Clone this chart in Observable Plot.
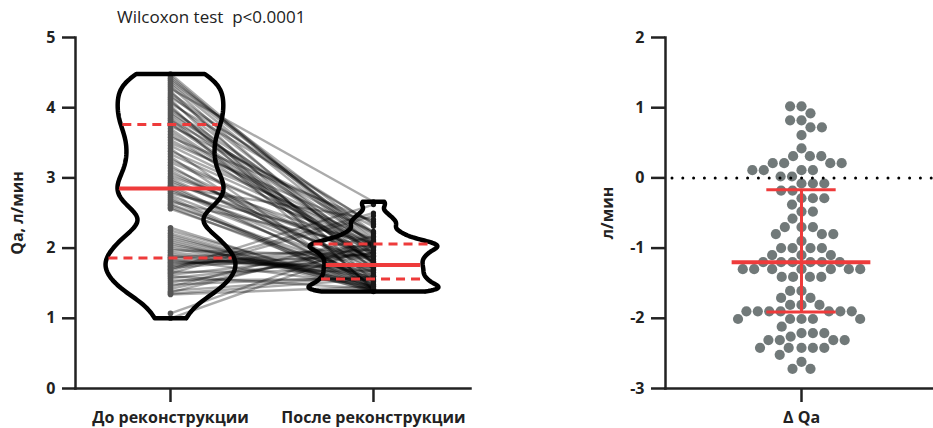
<!DOCTYPE html>
<html><head><meta charset="utf-8">
<script src="https://cdn.jsdelivr.net/npm/d3@7"></script>
<script src="https://cdn.jsdelivr.net/npm/@observablehq/plot@0.6"></script>
<style>
body{margin:0;width:933px;height:428px;overflow:hidden;background:#fff;font-family:"Open Sans",sans-serif;}
#wrap{position:relative;width:933px;height:428px;overflow:hidden;}
#left{position:absolute;left:0;top:0;}
#right{position:absolute;left:500px;top:0;width:437px;}
#right svg{max-width:none !important;}
#title{position:absolute;left:117px;top:5px;font-size:17px;color:#222;white-space:pre;font-family:"Open Sans",sans-serif;}
</style></head><body>
<div id="wrap"><div id="left"></div><div id="right"></div><div id="title">Wilcoxon test  p&lt;0.0001</div></div>
<script>
const groups = ["До реконструкции", "После реконструкции"];
const deltaLabel = "Δ Qa";
const yLabelLeft = "Qa, л/мин";
const yLabelRight = "л/мин";
const yTicksLeft = [0, 1, 2, 3, 4, 5];
const yTicksRight = [-3, -2, -1, 0, 1, 2];

const before = [4.48,4.45,4.42,4.39,4.36,4.33,4.30,4.27,4.24,4.21,4.18,4.15,4.12,4.09,4.06,4.03,4.00,3.97,3.94,3.91,3.88,3.85,3.82,3.79,3.77,
3.74,3.70,3.66,3.62,3.58,3.54,3.50,3.46,3.42,3.38,3.34,3.30,3.26,3.22,3.18,3.14,3.10,3.06,3.02,2.99,2.96,2.93,2.90,2.88,2.86,
2.84,2.81,2.78,2.75,2.72,2.69,2.66,2.63,2.61,2.58,2.56,
2.29,2.25,2.21,2.18,2.15,2.12,2.09,2.06,2.03,2.00,1.97,1.94,1.91,1.89,1.87,1.86,
1.84,1.82,1.80,1.00,1.07,1.34,1.35,1.37,1.39,1.42,1.45,1.48,1.51,1.54,1.57,1.60,1.62,1.64,1.66,1.68,1.70,1.72,1.74,1.76,1.78];

const after = [2.06,2.03,2.11,2.22,2.15,2.02,1.78,2.66,1.52,2.20,1.92,2.34,1.40,1.88,2.35,1.41,1.70,2.07,1.93,2.01,1.79,1.43,2.21,1.83,1.78,
2.31,1.80,1.81,1.72,2.38,2.10,2.24,2.05,1.41,2.12,2.04,1.40,1.99,2.02,1.47,1.84,1.69,1.86,2.02,1.72,1.76,1.93,1.49,2.41,1.66,
1.54,1.81,2.08,1.65,1.42,1.39,2.01,1.53,1.61,1.48,1.56,
1.39,1.45,1.41,1.38,1.45,1.42,1.39,1.48,1.55,1.52,1.89,1.65,1.62,1.60,1.98,1.68,
1.46,1.74,1.72,2.02,2.09,1.45,1.56,2.09,1.60,2.03,2.17,1.59,1.93,1.56,1.88,1.42,1.93,2.46,1.68,2.50,2.62,1.93,2.05,1.97,1.89];

const delta = [-2.42,-2.42,-2.31,-1.90,-2.21,-2.31,-2.52,-1.61,-2.72,-2.01,-2.26,-1.81,-2.72,-2.21,-1.71,-2.62,-2.42,-1.90,-2.01,-2.42,-2.31,-2.42,-1.61,-2.21,-2.12,
-2.31,-1.90,-2.01,-1.90,-1.20,-2.01,-1.90,-1.41,-2.01,-1.81,-1.90,-1.90,-1.81,-1.20,-1.71,-1.30,-1.41,-1.20,-1.00,-1.41,-1.20,-1.30,-1.41,-1.30,-1.20,
-1.30,-1.00,-1.30,-1.10,-1.30,-1.30,-1.20,-1.10,-1.00,-1.10,-1.00,
-0.90,-0.80,-0.80,-0.80,-0.70,-0.70,-0.70,-0.58,-0.48,-0.48,-0.08,-0.29,-0.29,-0.29,0.11,-0.18,
-0.38,-0.08,-0.08,1.02,1.02,0.11,0.21,0.72,0.21,0.61,0.72,0.11,0.42,0.02,0.31,-0.18,0.31,0.82,0.02,0.82,0.92,0.21,0.31,0.21,0.11];

// [Q1, median, Q3] as drawn
const beforeStats = [1.86, 2.85, 3.76];
const afterStats = [1.56, 1.76, 2.06];
const deltaStats = [-1.91, -1.20, -0.17];

const RED = "#ee3b3b";
const INK = "#222";

// kernel density outline, truncated at the data range
function violin(values, center, bw, halfWidth, gamma, n = 160) {
  const lo = d3.min(values), hi = d3.max(values);
  const dens = t => d3.sum(values, v => Math.exp(-0.5 * ((t - v) / bw) ** 2));
  const ts = d3.range(n + 1).map(i => lo + (hi - lo) * i / n);
  const ds = ts.map(dens);
  const m = d3.max(ds);
  const w = d => Math.pow(d / m, gamma) * halfWidth;
  const right = ts.map((t, i) => ({x: center + w(ds[i]), y: t}));
  const left = ts.map((t, i) => ({x: center - w(ds[i]), y: t})).reverse();
  return {pts: [...right, ...left, right[0]], widthAt: q => w(dens(q))};
}

const HW = 0.32;
const vb = violin(before, 1, 0.18, HW, 0.7);
const va = violin(after, 2, 0.06, HW, 0.75);
const statLines = (stats, c, v) => stats.map((q, i) => ({y: q, x1: c - v.widthAt(q) + 0.01, x2: c + v.widthAt(q) - 0.01, median: i === 1}));
const redB = statLines(beforeStats, 1, vb);
const redA = statLines(afterStats, 2, va);
const pairs = before.map((b, i) => ({b, a: after[i]}));

const font = {fontFamily: "'Open Sans', sans-serif", fontSize: "16px", fontWeight: "bold", color: INK, background: "transparent", overflow: "visible"};

const xDom = [0.532, 2.478];
const leftPlot = Plot.plot({
  width: 500, height: 428,
  marginLeft: 75, marginRight: 30, marginTop: 37, marginBottom: 40,
  x: {domain: xDom, axis: null},
  y: {domain: [0, 5], axis: null},
  style: font,
  marks: [
    Plot.link(pairs, {x1: () => 1, y1: "b", x2: () => 2, y2: "a", stroke: "#000", strokeOpacity: 0.33, strokeWidth: 2.4}),
    Plot.dot(before, {x: () => 1, y: d => d, r: 2.8, fill: "#555"}),
    Plot.dot(after, {x: () => 2, y: d => d, r: 2.6, fill: "#1a1a1a"}),
    Plot.line(vb.pts, {x: "x", y: "y", stroke: "#000", strokeWidth: 4.5, strokeLinejoin: "round"}),
    Plot.line(va.pts, {x: "x", y: "y", stroke: "#000", strokeWidth: 4.5, strokeLinejoin: "round"}),
    Plot.ruleY([...redB, ...redA].filter(d => d.median), {y: "y", x1: "x1", x2: "x2", stroke: RED, strokeWidth: 4}),
    Plot.ruleY([...redB, ...redA].filter(d => !d.median), {y: "y", x1: "x1", x2: "x2", stroke: RED, strokeWidth: 3, strokeDasharray: "9,6"}),
    Plot.frame({anchor: "left", stroke: INK, strokeWidth: 2.5}),
    Plot.frame({anchor: "bottom", stroke: INK, strokeWidth: 2.5}),
    Plot.axisY({ticks: yTicksLeft, tickFormat: d => String(d), tickSize: 13, tickPadding: 7, strokeWidth: 2.5, stroke: INK,
      label: yLabelLeft, labelAnchor: "center", labelArrow: "none", labelOffset: 64}),
    Plot.axisX({ticks: [1, 2], tickFormat: d => groups[d - 1], tickSize: 14, tickPadding: 9, strokeWidth: 2.5, stroke: INK, label: null})
  ]
});
document.getElementById("left").appendChild(leftPlot);

const deltaSorted = delta.slice().sort((a, b) => b - a);
const MED_HALF = 0.51, CAP_HALF = 0.255;
const rightPlot = Plot.plot({
  width: 437, height: 428,
  marginLeft: 165, marginRight: 0, marginTop: 37, marginBottom: 40,
  x: {domain: [-1, 1], axis: null},
  y: {domain: [-3, 2], axis: null},
  style: font,
  marks: [
    Plot.dot(deltaSorted, Plot.dodgeX({anchor: "middle", padding: 1.2}, {y: d => d, r: 5.1, fill: "#525c5c", fillOpacity: 0.82})),
    Plot.ruleY([0], {stroke: "#000", strokeWidth: 3, strokeDasharray: "0 10.8", strokeLinecap: "round", strokeDashoffset: 3.8}),
    Plot.ruleX([deltaStats], {x: () => 0, y1: d => d[0], y2: d => d[2], stroke: RED, strokeWidth: 3}),
    Plot.ruleY([deltaStats[1]], {y: d => d, x1: -MED_HALF, x2: MED_HALF, stroke: RED, strokeWidth: 4}),
    Plot.ruleY([deltaStats[0], deltaStats[2]], {y: d => d, x1: -CAP_HALF, x2: CAP_HALF, stroke: RED, strokeWidth: 3}),
    Plot.frame({anchor: "left", stroke: INK, strokeWidth: 2.5}),
    Plot.frame({anchor: "bottom", stroke: INK, strokeWidth: 2.5}),
    Plot.axisY({ticks: yTicksRight, tickFormat: d => String(d), tickSize: 14, tickPadding: 7, strokeWidth: 2.5, stroke: INK,
      label: yLabelRight, labelAnchor: "center", labelArrow: "none", labelOffset: 64}),
    Plot.axisX({ticks: [0], tickFormat: () => deltaLabel, tickSize: 14, tickPadding: 9, strokeWidth: 2.5, stroke: INK, label: null})
  ]
});
document.getElementById("right").appendChild(rightPlot);
</script>
</body></html>
